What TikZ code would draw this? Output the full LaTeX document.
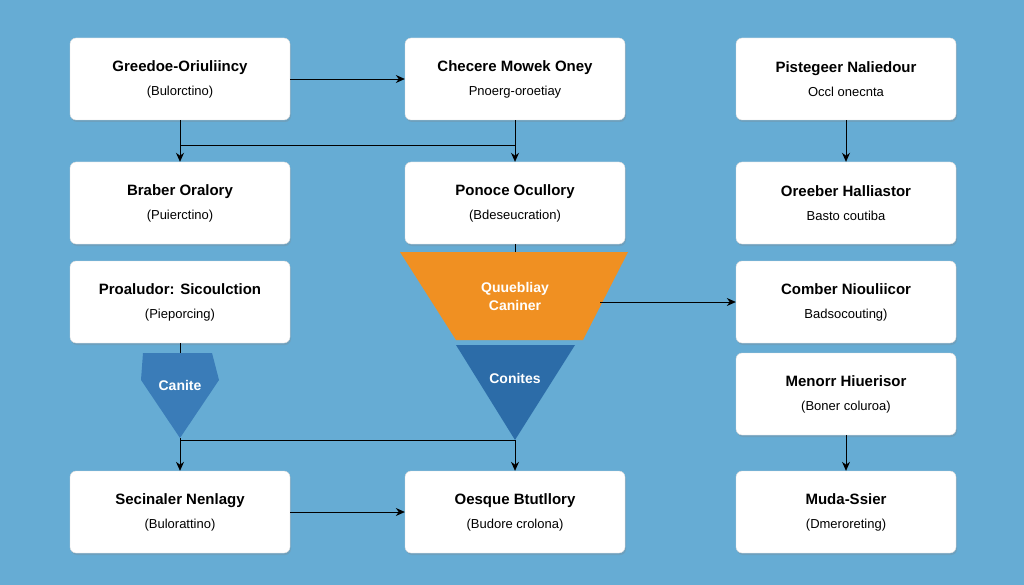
\documentclass[tikz,border=0pt]{standalone}
\usepackage{fontspec}
\setmainfont{Liberation Sans}
\usetikzlibrary{arrows.meta,shadows}
\definecolor{bgblue}{RGB}{102,172,212}
\definecolor{funorange}{RGB}{240,144,34}
\definecolor{fundark}{RGB}{44,108,168}
\definecolor{penblue}{RGB}{58,124,184}
\tikzstyle{box} = [draw=black!15,fill=white,rounded corners=6pt,drop shadow={opacity=0.25,shadow xshift=1pt,shadow yshift=-2pt},minimum width=220pt,minimum height=82pt,align=center,font=\fontsize{15}{24}\selectfont]
\tikzstyle{arrow} = [thick,-{Stealth[length=9pt,width=8pt]}]
\tikzstyle{line} = [thick]
\newcommand{\boxtext}[2]{\textbf{#1}\\{\fontsize{13}{16}\selectfont #2}}

\begin{document}
\begin{tikzpicture}[x=1pt,y=-1pt]
	\fill[bgblue] (0,0) rectangle (1024,585);
	\useasboundingbox (0,0) rectangle (1024,585);
	
	% Boxes:
	\node[box] (gre) at (180,79) {\boxtext{Greedoe-Oriuliincy}{(Bulorctino)}};
	\node[box] (che) at (515,79) {\boxtext{Checere Mowek Oney}{Pnoerg-oroetiay}};
	\node[box] (pis) at (846,79) {\boxtext{Pistegeer Naliedour}{Occl onecnta}};
	\node[box] (bra) at (180,203) {\boxtext{Braber Oralory}{(Puierctino)}};
	\node[box] (pon) at (515,203) {\boxtext{Ponoce Ocullory}{(Bdeseucration)}};
	\node[box] (ore) at (846,203) {\boxtext{Oreeber Halliastor}{Basto coutiba}};
	\node[box] (pro) at (180,302) {\boxtext{Proaludor: Sicoulction}{(Pieporcing)}};
	\node[box] (com) at (846,302) {\boxtext{Comber Niouliicor}{Badsocouting)}};
	\node[box] (men) at (846,394) {\boxtext{Menorr Hiuerisor}{(Boner coluroa)}};
	\node[box] (sec) at (180,512) {\boxtext{Secinaler Nenlagy}{(Bulorattino)}};
	\node[box] (oes) at (515,512) {\boxtext{Oesque Btutllory}{(Budore crolona)}};
	\node[box] (mud) at (846,512) {\boxtext{Muda-Ssier}{(Dmeroreting)}};
	
	% Funnel and pentagon:
	\fill[funorange] (400,252) -- (628,252) -- (583,340) -- (456,340) -- cycle;
	\fill[fundark] (456,345) -- (575,345) -- (515,440) -- cycle;
	\fill[penblue] (143,353) -- (212,353) -- (219,380) -- (180,438) -- (141,380) -- cycle;
	\node[font=\bfseries\fontsize{14}{18}\selectfont,text=white,align=center] (que) at (515,296) {Quuebliay\\Caniner};
	\node[font=\bfseries\fontsize{14}{18}\selectfont,text=white] (cns) at (515,378) {Conites};
	\node[font=\bfseries\fontsize{14}{18}\selectfont,text=white] (can) at (180,385) {Canite};
	\coordinate (funtip) at (515,440);
	\coordinate (pentip) at (180,438);
	
	% Connectors:
	\draw[arrow] (gre.east) -- (che.west);
	\draw[line] (gre.south) -- (180,145) -- (515,145);
	\draw[line] (che.south) -- (515,145);
	\draw[arrow] (180,145) -- (bra.north);
	\draw[arrow] (515,145) -- (pon.north);
	\draw[line] (pon.south) -- (515,252);
	\draw[line] (pro.south) -- (180,353);
	\draw[line] (pentip) -- (180,440) -- (funtip);
	\draw[arrow] (pentip) -- (sec.north);
	\draw[arrow] (funtip) -- (oes.north);
	\draw[arrow] (600,302) -- (com.west);
	\draw[arrow] (sec.east) -- (oes.west);
	\draw[arrow] (pis.south) -- (ore.north);
	\draw[arrow] (men.south) -- (mud.north);
\end{tikzpicture}
\end{document}
